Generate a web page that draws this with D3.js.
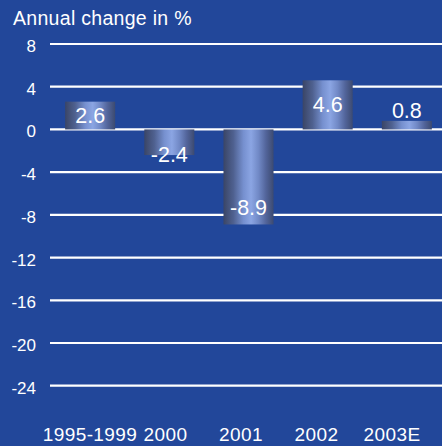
<!DOCTYPE html>
<html>
<head>
<meta charset="utf-8">
<script src="https://cdn.jsdelivr.net/npm/d3@7"></script>
<style>
  html, body { margin: 0; padding: 0; background: #22479a; }
  svg { display: block; font-family: "Liberation Sans", Arial, sans-serif; }
</style>
</head>
<body>
<div id="graph"></div>
<script>
"use strict";
const categories = ["1995-1999", "2000", "2001", "2002", "2003E"];
const values = [2.6, -2.4, -8.9, 4.6, 0.8];
const yTicks = [8, 4, 0, -4, -8, -12, -16, -20, -24];
const title = "Annual change in %";

(function() {
    const svgSize = { width: 442, height: 446 };

    window.addEventListener("load", init);

    function init() {
        let svg = d3.select("#graph")
                    .append("svg")
                        .attr("width", svgSize.width)
                        .attr("height", svgSize.height);

        let defs = svg.append("defs");
        let grad = defs.append("linearGradient")
            .attr("id", "barGrad")
            .attr("x1", "0").attr("x2", "1").attr("y1", "0").attr("y2", "0");
        [[0, "#3a4566"], [0.2, "#4f6190"], [0.4, "#7690cf"], [0.55, "#8ba5e3"],
         [0.7, "#7189c6"], [0.85, "#52649a"], [1, "#3c4a70"]].forEach(s => {
            grad.append("stop").attr("offset", s[0]).attr("stop-color", s[1]);
        });

        svg.append("rect")
            .attr("width", svgSize.width).attr("height", svgSize.height)
            .attr("fill", "#22479a");

        let yScale = d3.scaleLinear().domain([-24, 8]).range([385.7, 44]);
        let xScale = d3.scaleBand().domain(categories)
                        .range([36, 461]).paddingInner(0.368).paddingOuter(0.368);
        let labelScale = d3.scalePoint().domain(categories).range([90, 392]);

        // gridlines
        svg.append("g").selectAll("line")
            .data(yTicks).enter()
            .append("line")
                .attr("x1", 50).attr("x2", svgSize.width)
                .attr("y1", d => yScale(d)).attr("y2", d => yScale(d))
                .attr("stroke", "#ffffff").attr("stroke-width", 2.2);

        // y tick labels
        svg.append("g").selectAll("text")
            .data(yTicks).enter()
            .append("text")
                .attr("x", 36).attr("y", d => yScale(d) + 8)
                .attr("text-anchor", "end")
                .attr("fill", "#ffffff").attr("font-size", 17)
                .text(d => d);

        // title
        svg.append("text")
            .attr("x", 13).attr("y", 25)
            .attr("fill", "#ffffff").attr("font-size", 19.5)
            .attr("letter-spacing", 0.3)
            .text(title);

        // bars
        let data = categories.map((c, i) => ({ cat: c, val: values[i] }));
        svg.append("g").selectAll("rect")
            .data(data).enter()
            .append("rect")
                .attr("x", d => xScale(d.cat))
                .attr("width", xScale.bandwidth())
                .attr("y", d => yScale(Math.max(0, d.val)))
                .attr("height", d => Math.abs(yScale(d.val) - yScale(0)))
                .attr("fill", "url(#barGrad)");

        // value labels
        svg.append("g").selectAll("text")
            .data(data).enter()
            .append("text")
                .attr("x", d => xScale(d.cat) + xScale.bandwidth() / 2)
                .attr("y", d => labelY(d.val, yScale))
                .attr("text-anchor", "middle")
                .attr("fill", "#ffffff").attr("font-size", 21.5)
                .text(d => d.val);

        // category labels
        svg.append("g").selectAll("text")
            .data(categories).enter()
            .append("text")
                .attr("x", d => labelScale(d))
                .attr("y", 441)
                .attr("text-anchor", "middle")
                .attr("fill", "#ffffff").attr("font-size", 19)
                .attr("letter-spacing", 0.4)
                .text(d => d);
    }

    function labelY(v, yScale) {
        let h = Math.abs(yScale(v) - yScale(0));
        if (v >= 0) {
            if (h > 20) {
                return yScale(v / 2) + 7.5;
            }
            return yScale(v) - 3;
        }
        if (h > 40) {
            return yScale(v) - 9;
        }
        return yScale(v) + 7;
    }
})();
</script>
</body>
</html>
